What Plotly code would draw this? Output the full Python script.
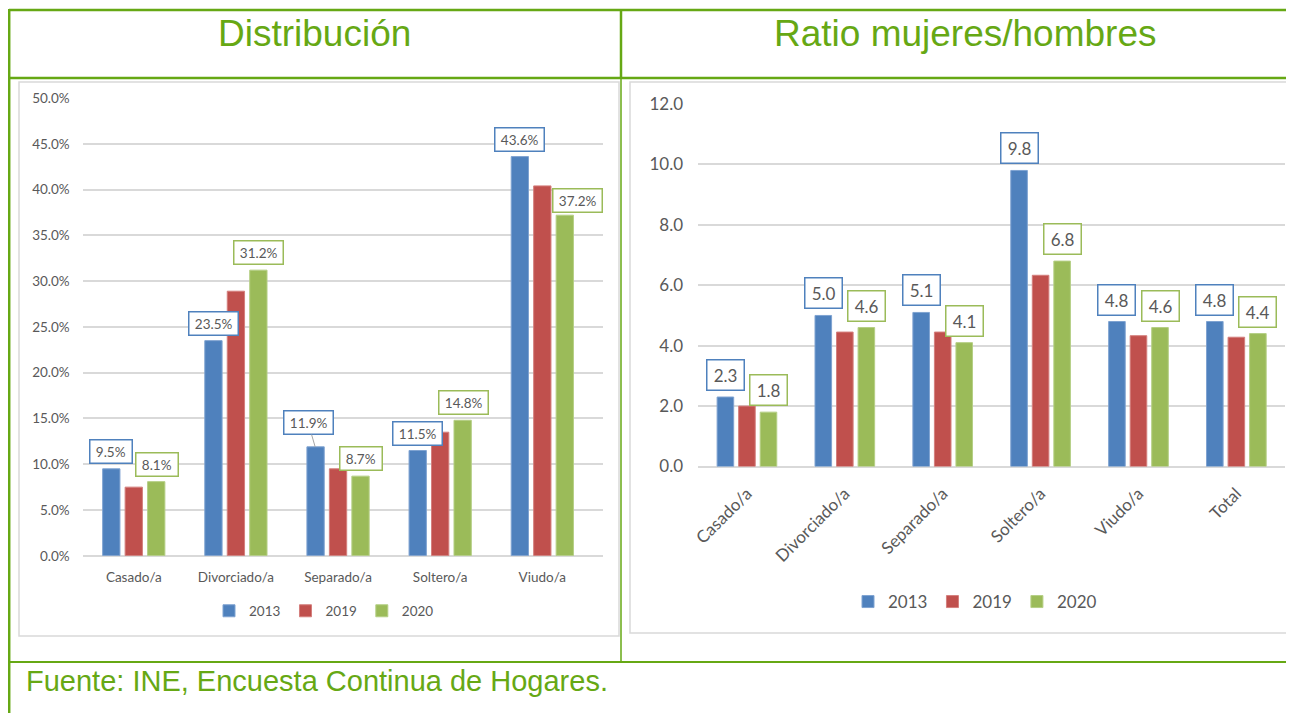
import plotly.graph_objects as go

# ---------------- data ----------------
years = ["2013", "2019", "2020"]

dist_categories = ["Casado/a", "Divorciado/a", "Separado/a", "Soltero/a", "Viudo/a"]
dist_2013 = [9.5, 23.5, 11.9, 11.5, 43.6]
dist_2019 = [7.5, 28.9, 9.5, 13.5, 40.4]
dist_2020 = [8.1, 31.2, 8.7, 14.8, 37.2]

ratio_categories = ["Casado/a", "Divorciado/a", "Separado/a", "Soltero/a", "Viudo/a", "Total"]
ratio_2013 = [2.3, 5.0, 5.1, 9.8, 4.8, 4.8]
ratio_2019 = [2.0, 4.45, 4.45, 6.33, 4.33, 4.28]
ratio_2020 = [1.8, 4.6, 4.1, 6.8, 4.6, 4.4]

dist_ticks = [0, 5, 10, 15, 20, 25, 30, 35, 40, 45, 50]
dist_tick_labels = ["0.0%", "5.0%", "10.0%", "15.0%", "20.0%", "25.0%", "30.0%",
                    "35.0%", "40.0%", "45.0%", "50.0%"]
ratio_ticks = [0, 2, 4, 6, 8, 10, 12]
ratio_tick_labels = ["0.0", "2.0", "4.0", "6.0", "8.0", "10.0", "12.0"]

title_left = "Distribución"
title_right = "Ratio mujeres/hombres"
source_text = "Fuente: INE, Encuesta Continua de Hogares."

# ---------------- style ----------------
OFF = 8  # page body margin of the rendered html page
W, H = 1294 - OFF, 713 - OFF
COLORS = ["#4f81bd", "#c0504d", "#9bbb59"]
EDGE = ["#7fa3d1", "#d47f7d", "#b5cf85"]
GREEN = "#66a814"
GRID = "#d9d9d9"
TXT = "#595959"
FONT = "Lato"

def fx(px):
    return (px - OFF) / W

def fy(py):
    return 1 - (py - OFF) / H

# plot areas in (screen) pixels
L_X0, L_X1, L_Y0, L_Y1 = 82.7, 602.7, 98.0, 555.8
R_X0, R_X1, R_Y0, R_Y1 = 698.0, 1285.3, 104.0, 466.5
BARGAP = 0.34

fig = go.Figure()

dist_series = [dist_2013, dist_2019, dist_2020]
ratio_series = [ratio_2013, ratio_2019, ratio_2020]

for i, yr in enumerate(years):
    fig.add_trace(go.Bar(
        x=dist_categories, y=dist_series[i], name=yr, xaxis="x", yaxis="y",
        marker=dict(color=COLORS[i], line=dict(color=EDGE[i], width=1)),
        legend="legend", hoverinfo="x+y"))
for i, yr in enumerate(years):
    fig.add_trace(go.Bar(
        x=ratio_categories, y=ratio_series[i], name=yr, xaxis="x2", yaxis="y2",
        marker=dict(color=COLORS[i], line=dict(color=EDGE[i], width=1)),
        legend="legend2", hoverinfo="x+y"))

# ---------------- data labels ----------------
CW = {".": 0.26, "%": 0.84}

def text_w(s, fs):
    return sum(CW.get(c, 0.58) for c in s) * fs

def add_labels(cats, vals, k, fmt, xref, yref, plot_w, fs, gap, hpad, box_h, extra=None):
    slot = plot_w / len(cats) * (1 - BARGAP) / 3
    xoff = (k - 1) * slot
    for j, (c, v) in enumerate(zip(cats, vals)):
        t = fmt.format(v)
        a = dict(x=c, y=v, xref=xref, yref=yref, text=t,
                 font=dict(family=FONT, size=fs, color=TXT),
                 bgcolor="white", bordercolor=COLORS[k], borderwidth=1.5,
                 borderpad=2, width=text_w(t, fs) + hpad, height=box_h,
                 showarrow=False, xshift=xoff, yshift=gap, yanchor="bottom")
        if extra and j in extra:
            a.update(extra[j])
        fig.add_annotation(**a)

lw = L_X1 - L_X0
rw = R_X1 - R_X0
add_labels(dist_categories, dist_2013, 0, "{:.1f}%", "x", "y", lw, 13.5, 5, 6, 18,
           extra={2: dict(showarrow=True, ax=-7, ay=-24, arrowhead=0, arrowwidth=1,
                          arrowcolor="#a6a6a6", standoff=0, yanchor="middle",
                          xanchor="center", yshift=0)})
add_labels(dist_categories, dist_2020, 2, "{:.1f}%", "x", "y", lw, 13.5, 5, 6, 18,
           extra={4: dict(xshift=(lw / 5 * (1 - BARGAP) / 3) + 12, yshift=2)})
add_labels(ratio_categories, ratio_2013, 0, "{:.1f}", "x2", "y2", rw, 17, 6, 8, 25)
add_labels(ratio_categories, ratio_2020, 2, "{:.1f}", "x2", "y2", rw, 17, 6, 8, 25)

# ---------------- titles & source ----------------
fig.add_annotation(x=fx(314), y=fy(33), xref="paper", yref="paper", text=title_left,
                   showarrow=False, font=dict(family="Liberation Sans", size=37, color=GREEN),
                   xanchor="center", yanchor="middle")
fig.add_annotation(x=fx(964.5), y=fy(33), xref="paper", yref="paper", text=title_right,
                   showarrow=False, font=dict(family="Liberation Sans", size=37, color=GREEN),
                   xanchor="center", yanchor="middle")
fig.add_annotation(x=fx(24), y=fy(680.5), xref="paper", yref="paper", text=source_text,
                   showarrow=False, font=dict(family="Liberation Sans", size=29, color=GREEN),
                   xanchor="left", yanchor="middle")

# ---------------- frames & table lines ----------------
shapes = []
shapes.append(dict(type="rect", xref="paper", yref="paper", x0=fx(19), x1=fx(619), y0=fy(636), y1=fy(82),
                   line=dict(color=GRID, width=1.5), layer="below"))
shapes.append(dict(type="rect", xref="paper", yref="paper", x0=fx(630), x1=fx(1310), y0=fy(633), y1=fy(82),
                   line=dict(color=GRID, width=1.5), layer="below"))

def gline(x0, y0, x1, y1, w):
    shapes.append(dict(type="line", xref="paper", yref="paper", x0=fx(x0), x1=fx(x1),
                       y0=fy(y0), y1=fy(y1), line=dict(color=GREEN, width=w)))
gline(9, 10, 1300, 10, 2.5)
gline(9.2, 9, 9.2, 725, 2.5)
gline(9, 78, 1300, 78, 2.5)
gline(621, 10, 621, 78, 2.5)
gline(621, 78, 621, 662, 1.5)
gline(9, 662, 1300, 662, 2)

# ---------------- layout ----------------
fig.update_layout(
    width=W, height=H, margin=dict(l=0, r=0, t=0, b=0, pad=0, autoexpand=False),
    paper_bgcolor="white", plot_bgcolor="white",
    barmode="group", bargap=BARGAP, bargroupgap=0.23,
    shapes=shapes,
    xaxis=dict(domain=[fx(L_X0), fx(L_X1)], anchor="y", showgrid=False, showline=False,
               ticks="", ticklabelstandoff=12, tickfont=dict(family=FONT, size=13.5, color=TXT),
               fixedrange=True, automargin=False),
    yaxis=dict(domain=[fy(L_Y1), fy(L_Y0)], anchor="x", range=[0, 50], tickvals=dist_ticks,
               ticktext=dist_tick_labels, showgrid=True, gridcolor=GRID, gridwidth=1.5,
               zeroline=True, zerolinecolor=GRID, zerolinewidth=1.5, showline=False,
               ticks="", ticklabelstandoff=12, tickfont=dict(family=FONT, size=13.5, color=TXT),
               fixedrange=True, automargin=False),
    xaxis2=dict(domain=[fx(R_X0), fx(R_X1)], anchor="y2", showgrid=False, showline=False,
                ticks="", tickangle=-45, ticklabelstandoff=13,
                tickfont=dict(family=FONT, size=17, color=TXT), fixedrange=True, automargin=False),
    yaxis2=dict(domain=[fy(R_Y1), fy(R_Y0)], anchor="x2", range=[0, 12], tickvals=ratio_ticks,
                ticktext=ratio_tick_labels, showgrid=True, gridcolor=GRID, gridwidth=1.5,
                zeroline=True, zerolinecolor=GRID, zerolinewidth=1.5, showline=False,
                ticks="", ticklabelstandoff=14, tickfont=dict(family=FONT, size=17, color=TXT),
                fixedrange=True, automargin=False),
    legend=dict(orientation="h", x=fx(324), y=fy(611), xanchor="center", yanchor="middle",
                font=dict(family=FONT, size=13.5, color=TXT), bgcolor="rgba(0,0,0,0)",
                itemwidth=30, itemclick=False, itemdoubleclick=False),
    legend2=dict(orientation="h", x=fx(975), y=fy(602), xanchor="center", yanchor="middle",
                 font=dict(family=FONT, size=17, color=TXT), bgcolor="rgba(0,0,0,0)",
                 itemwidth=30, itemclick=False, itemdoubleclick=False),
    showlegend=True,
)

fig.write_html("out.html")
